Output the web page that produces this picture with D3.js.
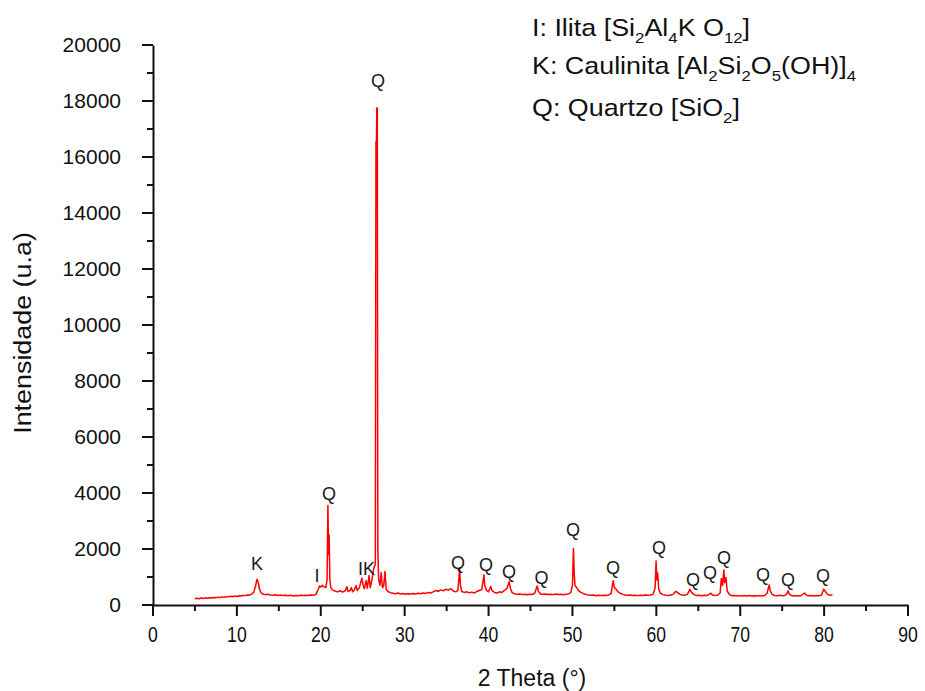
<!DOCTYPE html>
<html><head><meta charset="utf-8">
<script src="https://cdn.jsdelivr.net/npm/d3@7/dist/d3.min.js"></script>
<style>
html,body{margin:0;padding:0;background:#fff;}
svg{display:block;font-family:"Liberation Sans",Arial,sans-serif;}
</style></head>
<body>
<svg id="chart" width="925" height="691"></svg>
<script>
// ---- Data ----
const twoTheta = [5.00,5.25,5.50,5.75,6.00,6.25,6.50,6.75,7.00,7.25,7.50,7.75,8.00,8.25,8.50,8.75,9.00,9.25,9.50,9.75,10.00,10.25,10.50,10.75,11.00,11.25,11.50,11.75,12.00,12.20,12.40,12.55,12.70,12.90,13.10,13.40,13.70,14.00,14.30,14.60,14.90,15.20,15.50,15.80,16.10,16.40,16.70,17.00,17.30,17.60,17.90,18.20,18.50,18.80,19.10,19.40,19.70,19.85,20.00,20.20,20.40,20.60,20.75,20.85,20.93,21.00,21.08,21.20,21.40,21.70,22.00,22.30,22.60,22.90,23.10,23.25,23.50,23.65,23.80,24.00,24.20,24.35,24.60,24.90,25.05,25.20,25.40,25.55,25.75,25.90,26.10,26.30,26.50,26.58,26.64,26.68,26.74,26.80,26.90,27.05,27.20,27.35,27.50,27.65,27.80,28.00,28.30,28.60,28.90,29.20,29.50,29.80,30.10,30.40,30.70,31.00,31.30,31.60,31.90,32.20,32.50,32.80,33.10,33.40,33.70,34.00,34.30,34.60,34.90,35.20,35.50,35.80,36.10,36.35,36.55,36.65,36.80,37.10,37.40,37.70,38.00,38.30,38.60,38.90,39.20,39.45,39.55,39.75,40.00,40.25,40.40,40.70,41.00,41.30,41.60,41.90,42.20,42.45,42.60,42.80,43.10,43.40,43.70,44.00,44.30,44.60,44.90,45.20,45.50,45.80,45.95,46.20,46.50,46.80,47.10,47.40,47.70,48.00,48.30,48.60,48.90,49.20,49.50,49.80,50.00,50.12,50.20,50.30,50.50,50.70,51.00,51.30,51.60,51.90,52.20,52.50,52.80,53.10,53.40,53.70,54.00,54.30,54.60,54.85,55.00,55.20,55.40,55.70,56.00,56.30,56.60,56.90,57.20,57.50,57.80,58.10,58.40,58.70,59.00,59.30,59.60,59.85,59.97,60.05,60.15,60.30,60.50,60.80,61.10,61.40,61.70,62.00,62.30,62.50,62.80,63.10,63.40,63.70,64.00,64.20,64.50,64.80,65.10,65.40,65.70,66.00,66.30,66.50,66.70,67.00,67.30,67.60,67.75,67.90,68.05,68.15,68.30,68.45,68.70,69.00,69.30,69.60,69.90,70.20,70.50,70.80,71.10,71.40,71.70,72.00,72.30,72.60,72.90,73.20,73.45,73.60,73.80,74.10,74.40,74.70,75.00,75.30,75.55,75.70,75.85,76.10,76.40,76.70,77.00,77.30,77.65,77.90,78.20,78.50,78.80,79.10,79.40,79.70,79.95,80.15,80.40,80.70,81.00];
const intensity = [220,240,225,250,235,255,240,260,250,270,255,280,265,290,275,300,290,310,295,320,305,330,320,345,335,360,350,390,450,650,920,800,560,430,390,370,385,360,350,365,340,355,335,345,330,345,325,340,330,345,335,350,340,355,345,370,560,680,640,700,650,620,900,3550,1800,2500,900,620,540,500,470,510,460,500,650,480,520,620,470,540,700,520,620,960,700,580,870,600,1050,620,900,1300,1450,16550,16550,17750,17750,2000,900,700,1150,620,680,1200,560,480,440,420,400,430,395,410,385,400,390,410,395,420,400,430,410,450,430,470,520,490,540,510,560,530,580,500,470,520,1310,700,480,450,470,440,460,430,480,520,560,1080,700,520,470,660,520,450,430,470,450,520,600,830,600,450,400,380,395,375,385,370,380,375,420,680,480,390,380,395,375,385,370,390,375,380,370,385,395,440,700,2020,1200,700,620,520,450,410,380,360,345,355,330,345,335,350,340,360,400,870,620,560,480,420,380,360,345,360,340,350,335,350,340,355,345,360,380,600,1570,900,1150,550,420,370,350,340,360,380,490,450,380,360,345,380,560,450,370,340,350,330,345,335,380,420,360,340,350,420,950,700,1250,800,980,500,380,330,340,320,335,320,340,325,335,320,330,320,335,325,340,420,715,500,380,340,330,345,330,340,400,510,380,340,325,335,320,340,430,350,330,340,325,335,330,360,560,480,380,350,360];

const peakLabels = ["K","I","Q","IK","Q","Q","Q","Q","Q","Q","Q","Q","Q","Q","Q","Q","Q","Q"];
const peakLabelTheta = [12.40,19.55,20.98,25.45,26.82,36.36,39.69,42.43,46.31,50.07,54.84,60.32,64.37,66.40,68.07,72.72,75.70,79.87];
const peakLabelInt = [1500,1070,4000,1320,18750,1535,1464,1214,1000,2714,1357,2071,928,1143,1714,1107,893,1036];

const xTicks = [0,10,20,30,40,50,60,70,80,90];
const yTicks = [0,2000,4000,6000,8000,10000,12000,14000,16000,18000,20000];

const legendLines = [
  [["I: Ilita [Si",0],["2",1],["Al",0],["4",1],["K O",0],["12",1],["]",0]],
  [["K: Caulinita [Al",0],["2",1],["Si",0],["2",1],["O",0],["5",1],["(OH)]",0],["4",1]],
  [["Q: Quartzo [SiO",0],["2",1],["]",0]]
];

// ---- Chart ----
const svg = d3.select("#chart");
const x = d3.scaleLinear().domain([0,90]).range([153,908]);
const y = d3.scaleLinear().domain([0,20000]).range([605,45]);
const ink = "#111";

// line
const pts = twoTheta.map((t,i)=>[t,intensity[i]]);
svg.append("path").datum(pts)
  .attr("fill","none").attr("stroke","#ff0000").attr("stroke-width",1.5)
  .attr("stroke-linejoin","round")
  .attr("d", d3.line().x(d=>x(d[0])).y(d=>y(d[1])));

// x axis
const gx = svg.append("g").attr("transform","translate(0,605)");
gx.call(d3.axisBottom(x).tickValues(d3.range(0,91,5)).tickSize(0).tickFormat(""));
gx.select(".domain").attr("stroke",ink).attr("stroke-width",2);
gx.selectAll(".tickm").data(d3.range(0,91,5)).enter().append("line")
  .attr("x1",d=>x(d)).attr("x2",d=>x(d)).attr("y1",0)
  .attr("y2",d=>d%10===0?11:6).attr("stroke",ink).attr("stroke-width",2);
gx.selectAll(".xl").data(xTicks).enter().append("text")
  .attr("transform",d=>`translate(${x(d)},37) scale(0.8,1)`)
  .attr("text-anchor","middle").attr("font-size",22).attr("fill",ink)
  .text(d=>d);

// y axis
const gy = svg.append("g").attr("transform","translate(153,0)");
gy.call(d3.axisLeft(y).tickValues([]).tickSize(0));
gy.select(".domain").attr("stroke",ink).attr("stroke-width",2);
gy.selectAll(".tickm").data(d3.range(0,20001,1000)).enter().append("line")
  .attr("y1",d=>y(d)).attr("y2",d=>y(d)).attr("x1",0)
  .attr("x2",d=>d%2000===0?-11:-6).attr("stroke",ink).attr("stroke-width",2);
gy.selectAll(".yl").data(yTicks).enter().append("text")
  .attr("x",-32).attr("y",d=>y(d)+7)
  .attr("text-anchor","end").attr("font-size",21).attr("fill",ink)
  .text(d=>d);

// axis titles
svg.append("text").attr("x",532).attr("y",686).attr("text-anchor","middle")
  .attr("font-size",23).attr("fill",ink).text("2 Theta (°)");
svg.append("text").attr("transform","translate(31,333) rotate(-90) scale(1.12,1)")
  .attr("text-anchor","middle").attr("font-size",24).attr("fill",ink).text("Intensidade (u.a)");

// peak labels
svg.selectAll(".pl").data(peakLabels).enter().append("text")
  .attr("x",(d,i)=>x(peakLabelTheta[i])).attr("y",(d,i)=>y(peakLabelInt[i])+6.5)
  .attr("text-anchor","middle").attr("font-size",18).attr("fill","#1a1a1a")
  .text(d=>d);

// legend
const legY = [36,74,116];
legendLines.forEach((segs,li)=>{
  const t = svg.append("text")
    .attr("transform",`translate(532,${legY[li]}) scale(1.12,1)`)
    .attr("font-size",24).attr("fill",ink);
  let prevSub = 0;
  segs.forEach(([s,sub])=>{
    const ts = t.append("tspan").text(s);
    if(sub){ ts.attr("font-size",15).attr("dy",prevSub?0:7); }
    else { ts.attr("dy",prevSub?-7:0); }
    prevSub = sub;
  });
});
</script>
</body></html>
